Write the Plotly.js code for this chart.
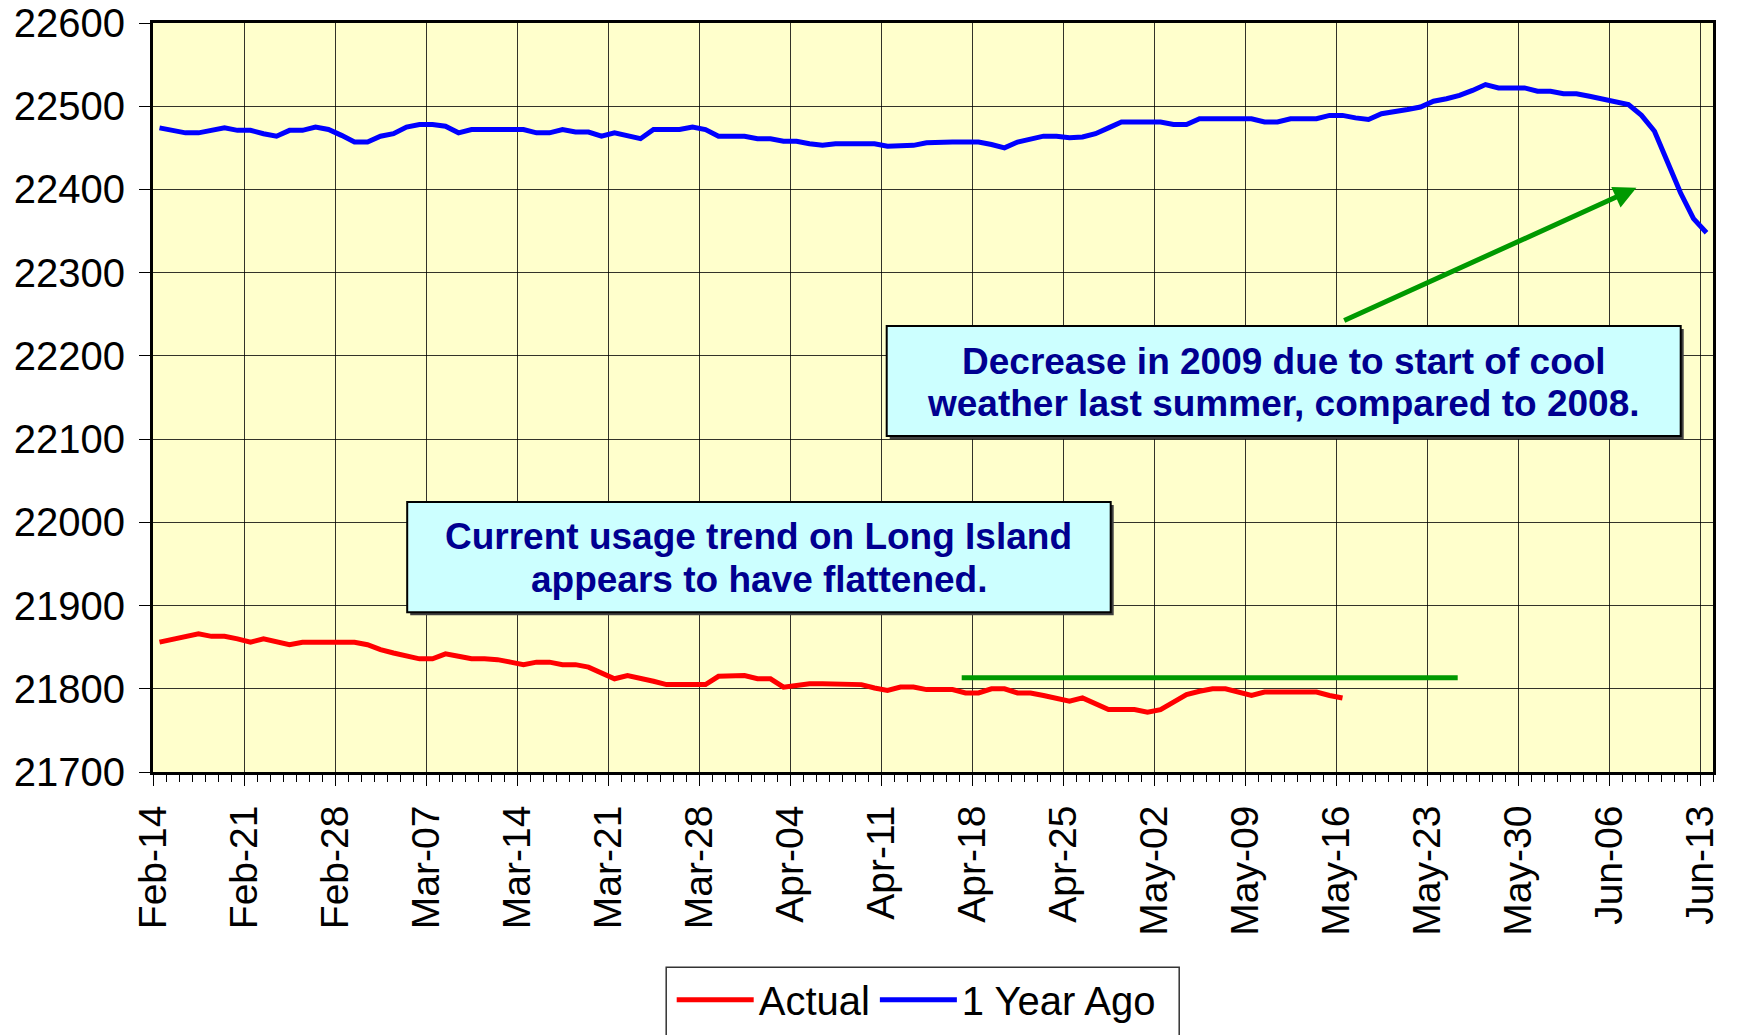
<!DOCTYPE html>
<html>
<head>
<meta charset="utf-8">
<script src="https://cdn.plot.ly/plotly-3.0.1.min.js"></script>
<style>
  html, body { margin: 0; padding: 0; background: #ffffff; }
  #chart { width: 1738px; height: 1035px; }
</style>
</head>
<body>
<div id="chart"></div>
<script>
// ---- Data ----
const startDate = '2010-02-14';          // first day on the category axis
const seriesNames = ['Actual', '1 Year Ago'];

// Daily values, Feb-14 .. May-16
const actual = [
  21856, 21859, 21862, 21866, 21863, 21863, 21860, 21856, 21860, 21857,
  21853, 21856, 21856, 21856, 21856, 21856, 21853, 21847, 21843, 21839,
  21836, 21836, 21842, 21839, 21836, 21836, 21835, 21832, 21829, 21832,
  21832, 21829, 21829, 21826, 21819, 21812, 21816, 21813, 21809, 21805,
  21805, 21805, 21805, 21815, 21816, 21816, 21812, 21812, 21802, 21804,
  21806, 21806, 21806, 21806, 21805, 21801, 21798, 21802, 21802, 21799,
  21799, 21799, 21795, 21795, 21800, 21800, 21795, 21795, 21792, 21788,
  21785, 21789, 21782, 21775, 21775, 21775, 21772, 21775, 21784, 21793,
  21797, 21800, 21800, 21796, 21792, 21796, 21796, 21796, 21796, 21796,
  21792, 21789
];

// Daily values, Feb-14 .. Jun-13
const yearAgo = [
  22474, 22471, 22468, 22468, 22471, 22474, 22471, 22471, 22467, 22464,
  22471, 22471, 22475, 22472, 22465, 22457, 22457, 22464, 22467, 22475,
  22478, 22478, 22476, 22468, 22472, 22472, 22472, 22472, 22472, 22468,
  22468, 22472, 22469, 22469, 22464, 22468, 22465, 22461, 22472, 22472,
  22472, 22475, 22472, 22464, 22464, 22464, 22461, 22461, 22458, 22458,
  22455, 22453, 22455, 22455, 22455, 22455, 22452, 22452, 22453, 22456,
  22457, 22457, 22457, 22457, 22454, 22450, 22457, 22460, 22464, 22464,
  22462, 22463, 22467, 22474, 22481, 22481, 22481, 22481, 22478, 22478,
  22485, 22485, 22485, 22485, 22485, 22481, 22481, 22485, 22485, 22485,
  22489, 22489, 22486, 22484, 22491, 22493, 22496, 22499, 22506, 22509,
  22513, 22519, 22526, 22522, 22522, 22522, 22518, 22518, 22515, 22515,
  22512, 22509, 22506, 22502, 22489, 22470, 22433, 22396, 22365, 22348
];

const noteDecrease = ['Decrease in 2009 due to start of cool', 'weather last summer, compared to 2008.'];
const noteCurrent = ['Current usage trend on Long Island', 'appears to have flattened.'];

// ---- Category dates (each day's point sits in the middle of its day) ----
function dayCenter(i) {
  const d = new Date(startDate + 'T12:00:00Z');
  d.setUTCDate(d.getUTCDate() + i);
  return d.toISOString().slice(0, 19).replace('T', ' ');
}
const xActual = actual.map((_, i) => dayCenter(i));
const xYearAgo = yearAgo.map((_, i) => dayCenter(i));

const FONT = 'Liberation Sans, Arial, Helvetica, sans-serif';
const NAVY = '#000090';
const GREEN = '#009900';

const traces = [
  { type: 'scatter', mode: 'lines', name: seriesNames[0], x: xActual, y: actual,
    line: { color: '#ff0000', width: 5 } },
  { type: 'scatter', mode: 'lines', name: seriesNames[1], x: xYearAgo, y: yearAgo,
    line: { color: '#0000ff', width: 5 } }
];

// paper helpers from plot-area pixel positions
const PL = 153.3, PR = 1713.3, PT = 22.7, PB = 772.3;
const px = v => (v - PL) / (PR - PL);
const py = v => (PB - v) / (PB - PT);

function boxShapes(x0, y0, x1, y1) {
  return [
    { type: 'rect', xref: 'paper', yref: 'paper', layer: 'above',
      x0: px(x0 + 3), x1: px(x1 + 3), y0: py(y1 + 3), y1: py(y0 + 3),
      fillcolor: '#404040', line: { width: 0 } },
    { type: 'rect', xref: 'paper', yref: 'paper', layer: 'above',
      x0: px(x0), x1: px(x1), y0: py(y1), y1: py(y0),
      fillcolor: '#ccffff', line: { color: '#000000', width: 2 } }
  ];
}

function noteLine(text, cx, cy) {
  return { xref: 'paper', yref: 'paper', x: px(cx), y: py(cy), xanchor: 'center', yanchor: 'middle',
    text: '<b>' + text + '</b>', showarrow: false, align: 'center',
    font: { family: FONT, size: 37, color: NAVY } };
}

const layout = {
  width: 1738, height: 1035,
  paper_bgcolor: '#ffffff',
  plot_bgcolor: '#ffffcc',
  margin: { l: 153, r: 25, t: 23, b: 263, autoexpand: false },
  font: { family: FONT, color: '#000000', size: 38 },
  showlegend: true,
  legend: {
    orientation: 'h', x: px(672), xanchor: 'left', y: py(967.7), yanchor: 'top',
    borderwidth: 0, bgcolor: 'rgba(0,0,0,0)',
    font: { family: FONT, size: 40, color: '#000000' },
    itemwidth: 77, traceorder: 'normal'
  },
  xaxis: {
    type: 'date',
    range: ['2010-02-14', '2010-06-14'],
    tick0: '2010-02-14', dtick: 7 * 86400000,
    tickformat: '%b-%d', tickangle: -90,
    ticks: 'outside', ticklen: 11, tickwidth: 1, tickcolor: '#000',
    ticklabelstandoff: 4,
    showgrid: true, gridcolor: 'rgba(0,0,0,0.8)', gridwidth: 1,
    showline: true, linecolor: '#000', linewidth: 3, mirror: true,
    zeroline: false, automargin: false,
    tickfont: { family: FONT, size: 39, color: '#000' },
    minor: { dtick: 86400000, ticks: 'outside', ticklen: 7, tickcolor: '#000', tickwidth: 1, showgrid: false },
    fixedrange: true
  },
  yaxis: {
    range: [21700, 22600], dtick: 100, tick0: 21700,
    ticks: 'outside', ticklen: 11, tickwidth: 1, tickcolor: '#000',
    ticklabelstandoff: 6,
    showgrid: true, gridcolor: 'rgba(0,0,0,0.8)', gridwidth: 1,
    showline: true, linecolor: '#000', linewidth: 3, mirror: true,
    zeroline: false, automargin: false,
    tickformat: 'd',
    tickfont: { family: FONT, size: 40, color: '#000' },
    fixedrange: true
  },
  shapes: [
    ...boxShapes(887, 326, 1681, 436),
    ...boxShapes(407.5, 502, 1111, 612.3),
    { type: 'line', xref: 'paper', yref: 'paper', layer: 'above',
      x0: px(962), x1: px(1458), y0: py(678), y1: py(678),
      line: { color: GREEN, width: 5 } },
    // legend frame (runs past the bottom edge, as in the reference)
    { type: 'rect', xref: 'paper', yref: 'paper', layer: 'above',
      x0: px(666.5), x1: px(1179.5), y0: py(1045), y1: py(967.7),
      fillcolor: 'rgba(0,0,0,0)', line: { color: '#333333', width: 1.5 } }
  ],
  annotations: [
    noteLine(noteDecrease[0], 1284, 361),
    noteLine(noteDecrease[1], 1284, 404),
    noteLine(noteCurrent[0], 759, 537),
    noteLine(noteCurrent[1], 759, 580),
    { xref: 'paper', yref: 'paper', x: px(1636.7), y: py(187.7),
      axref: 'pixel', ayref: 'pixel', ax: 1343 - 1636.7, ay: 321 - 187.7,
      text: '', showarrow: true, arrowhead: 2, arrowsize: 0.9, arrowwidth: 5,
      arrowcolor: GREEN, standoff: 0, startstandoff: 0 }
  ]
};

Plotly.newPlot('chart', traces, layout, { displayModeBar: false, staticPlot: true });
</script>
</body>
</html>
